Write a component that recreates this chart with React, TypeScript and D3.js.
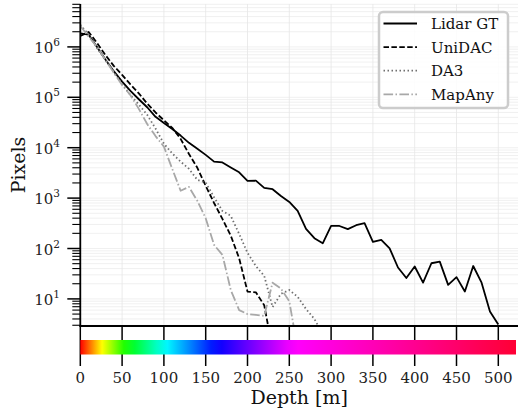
import React from "react";
import * as d3 from "d3";

// depth bins [m], every 10 m
const DEPTHS = [
  0, 10, 20, 30, 40, 50, 60, 70, 80, 90, 100, 110, 120, 130, 140, 150, 160, 170, 180, 190, 200,
  210, 220, 230, 240, 250, 260, 270, 280, 290, 300, 310, 320, 330, 340, 350, 360, 370, 380, 390,
  400, 410, 420, 430, 440, 450, 460, 470, 480, 490, 500,
];

const LIDAR_GT = [
  1.85e6, 1.75e6, 1.0e6, 565000, 330000, 205000, 134000, 91500, 63500, 41000, 31000, 23500, 17400,
  12500, 9500, 7200, 5300, 5100, 4050, 3250, 2200, 2220, 1600, 1500, 1100, 840, 560, 245, 160, 127,
  280, 280, 242, 290, 318, 135, 148, 101, 42, 26, 44, 21, 51, 55, 19, 27, 14, 45, 21, 5.6, 3.1,
];

const UNIDAC = [
  1.65e6, 1.98e6, 1.2e6, 690000, 420000, 278000, 180000, 120000, 75000, 50000, 35000, 24700, 15000,
  7500, 4000, 1750, 800, 386, 180, 64, 14, 13.5, 7.5, 1,
];

const DA3 = [
  2.75e6, 1.75e6, 950000, 550000, 318000, 185000, 111000, 72000, 45000, 24000, 12000, 7700, 5300,
  3800, 2300, 2040, 1040, 557, 444, 195, 82, 45, 28.6, 6.9, 12.6, 15, 11, 6.3, 4, 2,
];

const MAPANY = [
  2.6e6, 1.6e6, 1.0e6, 550000, 310000, 175000, 110000, 59000, 29500, 17000, 10500, 3800, 1400,
  1670, 880, 400, 118, 75, 15, 6, 5, 4.8, 4.6, 21, 16, 9, 1,
];

const SERIES = [
  { name: "Lidar GT", values: LIDAR_GT, color: "#000000", dash: "none", width: 1.8 },
  { name: "UniDAC", values: UNIDAC, color: "#000000", dash: "5.5,2.4", width: 1.8 },
  { name: "DA3", values: DA3, color: "#707070", dash: "1.5,2.5", width: 1.8 },
  { name: "MapAny", values: MAPANY, color: "#a8a8a8", dash: "9.6,2.4,1.5,2.4", width: 1.8 },
];

const X_TICKS = [0, 50, 100, 150, 200, 250, 300, 350, 400, 450, 500];
const Y_EXPONENTS = [1, 2, 3, 4, 5, 6];

// colorbar hue anchors (depth -> hue)
const CMAP_DEPTH = [0, 26, 56, 102, 163, 255, 522];
const CMAP_HUE = [0, 60, 120, 180, 240, 300, 348];

const W = 518;
const H = 409;
const left = 80.3;
const top = 4;
const bottom = 326;
const right = 518;
const font = "'DejaVu Serif', serif";

const App = () => {
  const x = d3.scaleLinear().domain([0, 500]).range([left, 498.3]);
  const y = d3.scaleLog().domain([2.9, 7.1e6]).range([bottom, top]);
  const hue = d3.scaleLinear().domain(CMAP_DEPTH).range(CMAP_HUE);

  const line = d3
    .line<number>()
    .x((d, i) => x(DEPTHS[i]))
    .y((d) => y(d));

  // minor + major log ticks
  const minor: number[] = [];
  for (let e = 0; e <= 6; e++) {
    for (let m = 1; m <= 9; m++) {
      const v = m * Math.pow(10, e);
      if (v >= 2.9 && v <= 7.1e6) minor.push(v);
    }
  }

  const xMax = x.invert(right);
  const stops = d3.range(0, 41).map((i) => {
    const d = (i / 40) * x.invert(516);
    return { off: i / 40, c: d3.hsl(hue(d), 1, 0.5).formatHex() };
  });

  return (
    <svg
      width={W}
      height={H}
      style={{ position: "absolute", left: 0, top: 0, background: "#fff" }}
      fontFamily={font}
    >
      <defs>
        <clipPath id="plot">
          <rect x={left} y={top} width={right - left} height={bottom - top} />
        </clipPath>
        <linearGradient id="cmap" x1="0" x2="1" y1="0" y2="0">
          {stops.map((s, i) => (
            <stop key={i} offset={s.off} stopColor={s.c} />
          ))}
        </linearGradient>
      </defs>

      {/* grid */}
      {minor.map((v, i) => (
        <line key={"hg" + i} x1={left} x2={right} y1={y(v)} y2={y(v)} stroke="#ececec" strokeWidth={0.8} />
      ))}
      {X_TICKS.map((t) => (
        <line key={"vg" + t} x1={x(t)} x2={x(t)} y1={top} y2={bottom} stroke="#e6e6e6" strokeWidth={0.8} />
      ))}

      {/* series */}
      <g clipPath="url(#plot)">
        {SERIES.map((s) => (
          <path
            key={s.name}
            d={line(s.values) || ""}
            fill="none"
            stroke={s.color}
            strokeWidth={s.width}
            strokeDasharray={s.dash}
            strokeLinejoin="round"
          />
        ))}
      </g>

      {/* y axis */}
      {minor.map((v, i) => {
        const major = Math.abs(Math.log10(v) - Math.round(Math.log10(v))) < 1e-9;
        return (
          <line
            key={"yt" + i}
            x1={left - (major ? 13 : 8)}
            x2={left}
            y1={y(v)}
            y2={y(v)}
            stroke="#000"
            strokeWidth={major ? 1.5 : 1.1}
          />
        );
      })}
      {Y_EXPONENTS.map((e) => (
        <text key={"yl" + e} x={60} y={y(Math.pow(10, e)) + 6} textAnchor="end" fontSize={15} fill="#222">
          10
          <tspan dy={-7} fontSize={10.5}>
            {e}
          </tspan>
        </text>
      ))}
      <line x1={left} x2={left} y1={top} y2={bottom} stroke="#000" strokeWidth={1.8} />
      <text
        transform={`translate(25,${(top + bottom) / 2}) rotate(-90)`}
        textAnchor="middle"
        fontSize={19}
        fill="#111"
      >
        Pixels
      </text>

      {/* x axis with colorbar */}
      {X_TICKS.map((t) => (
        <line key={"xt" + t} x1={x(t)} x2={x(t)} y1={bottom} y2={366} stroke="#000" strokeWidth={1.5} />
      ))}
      <line x1={left - 1} x2={right} y1={bottom} y2={bottom} stroke="#000" strokeWidth={1.8} />
      <rect x={left} y={340} width={x(x.invert(516)) - left} height={14.5} fill="url(#cmap)" />
      {X_TICKS.map((t) => (
        <text key={"xl" + t} x={x(t)} y={383} textAnchor="middle" fontSize={15} fill="#222">
          {t}
        </text>
      ))}
      <text x={(left + right) / 2} y={404} textAnchor="middle" fontSize={19} fill="#111">
        Depth [m]
      </text>

      {/* legend */}
      <g>
        <rect x={379} y={12} width={129} height={96} rx={4} fill="#fff" fillOpacity={0.85} stroke="#cccccc" strokeWidth={2.5} />
        {SERIES.map((s, i) => {
          const ly = 23.5 + i * 23.6;
          return (
            <g key={"lg" + s.name}>
              <line x1={383.5} x2={417} y1={ly} y2={ly} stroke={s.color} strokeWidth={s.width} strokeDasharray={s.dash} />
              <text x={431} y={ly + 5.5} fontSize={15} fill="#111">
                {s.name}
              </text>
            </g>
          );
        })}
      </g>
      {xMax > 0 ? null : null}
    </svg>
  );
};

export default App;
